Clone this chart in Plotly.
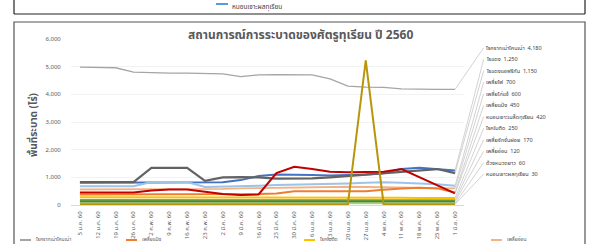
import plotly.graph_objects as go

# ---------------- data ----------------
dates = ["5 ม.ค. 60", "12 ม.ค. 60", "19 ม.ค. 60", "26 ม.ค. 60", "2 ก.พ. 60", "9 ก.พ. 60",
         "16 ก.พ. 60", "23 ก.พ. 60", "2 มี.ค. 60", "9 มี.ค. 60", "16 มี.ค. 60", "23 มี.ค. 60",
         "30 มี.ค. 60", "6 เม.ย. 60", "13 เม.ย. 60", "20 เม.ย. 60", "27 เม.ย. 60", "4 พ.ค. 60",
         "11 พ.ค. 60", "18 พ.ค. 60", "25 พ.ค. 60", "1 มิ.ย. 60"]

s_root_rot = [4980, 4980, 4960, 4800, 4780, 4770, 4770, 4760, 4740, 4640, 4700,
              4710, 4710, 4700, 4560, 4300, 4260, 4250, 4200, 4180, 4180, 4180]
s_red_mite = [800, 800, 800, 800, 800, 800, 800, 800, 820, 900, 1050,
              1100, 1100, 1080, 1070, 1080, 1100, 1150, 1300, 1350, 1300, 1250]
s_african_mite = [830, 830, 830, 830, 1340, 1340, 1340, 870, 1000, 1010, 1000,
                  950, 950, 960, 1000, 1050, 1100, 1150, 1200, 1250, 1300, 1150]
s_thrips = [680, 680, 680, 680, 830, 830, 830, 650, 660, 680, 700,
            720, 730, 740, 760, 780, 800, 820, 800, 780, 750, 700]
s_psyllid = [560, 560, 560, 560, 560, 560, 560, 560, 580, 600, 610,
             620, 640, 650, 660, 660, 650, 640, 630, 620, 610, 600]
s_mealybug = [380, 380, 380, 380, 380, 380, 380, 380, 380, 380, 400,
              420, 500, 500, 500, 500, 500, 550, 600, 620, 600, 450]
s_seed_borer = [450, 450, 450, 450, 520, 560, 560, 480, 400, 360, 380,
                1150, 1380, 1300, 1200, 1180, 1180, 1200, 1300, 1000, 700, 420]
s_leaf_blight = [280, 280, 280, 280, 280, 280, 280, 280, 280, 280, 280,
                 280, 280, 270, 270, 270, 260, 260, 260, 250, 250, 250]
s_leafhopper = [180, 180, 180, 180, 180, 180, 180, 180, 180, 180, 180,
                180, 180, 180, 180, 170, 170, 170, 170, 170, 170, 170]
s_aphid = [120, 120, 120, 120, 120, 120, 120, 120, 120, 120, 120,
           120, 120, 120, 120, 120, 120, 120, 120, 120, 120, 120]
s_borer = [60, 60, 60, 60, 60, 60, 60, 60, 60, 60, 60,
           60, 60, 60, 60, 60, 60, 60, 60, 60, 60, 60]
s_fruit_borer = [30, 30, 30, 30, 30, 30, 30, 30, 30, 30, 30,
                 30, 30, 30, 30, 30, 5230, 30, 30, 30, 30, 30]

series_names = ["โรครากเน่าโคนเน่า", "ไรแดง", "ไรแดงแอฟริกัน", "เพลี้ยไฟ", "เพลี้ยไก่แจ้",
                "เพลี้ยแป้ง", "หนอนเจาะเมล็ดทุเรียน", "โรคใบติด", "เพลี้ยจักจั่นฝอย",
                "เพลี้ยอ่อน", "ด้วงหนวดยาว", "หนอนเจาะผลทุเรียน"]
series_values = [s_root_rot, s_red_mite, s_african_mite, s_thrips, s_psyllid, s_mealybug,
                 s_seed_borer, s_leaf_blight, s_leafhopper, s_aphid, s_borer, s_fruit_borer]

y_ticks = [0, 1000, 2000, 3000, 4000, 5000, 6000]

title_text = "สถานการณ์การระบาดของศัตรูทุเรียน ปี 2560"
y_title = "พื้นที่ระบาด (ไร่)"
top_legend_text = "หนอนเจาะผลทุเรียน"
bottom_legend_texts = ["โรครากเน่าโคนเน่า", "เพลี้ยแป้ง", "โรคใบติด", "เพลี้ยอ่อน"]

# ---------------- styles ----------------
colors = ["#a5a5a5", "#4472c4", "#636363", "#9dc3e6", "#f4b183", "#ed7d31",
          "#c00000", "#ffc000", "#70ad47", "#548235", "#a9d18e", "#b8960c"]
widths = [1.3, 2, 2.2, 2, 1.8, 2, 2, 2, 2, 2.4, 2, 2]
FONT = "Noto Sans, Noto Sans Thai, Loma, Tahoma, sans-serif"

W, H = 590, 244
L, R, T, B = 71, 126, 39, 39
PW, PH = W - L - R, H - T - B


def px(xp):
    return (xp - L) / PW


def py(yp):
    return (H - B - yp) / PH


fig = go.Figure()
idx = list(range(len(dates)))
draw_order = list(range(len(series_names)))
for i in draw_order:
    fig.add_trace(go.Scatter(
        x=idx, y=series_values[i], mode="lines", name=series_names[i],
        line=dict(color=colors[i], width=widths[i]), showlegend=False))

annotations = []
# end-of-line data labels with leader lines
for k, i in enumerate(draw_order):
    vals = series_values[i]
    annotations.append(dict(
        x=idx[-1], y=vals[-1], xref="x", yref="y",
        ax=22.6, ay=5680 - k * 415, axref="x", ayref="y",
        text=f"{series_names[i]}  {vals[-1]:,}", showarrow=True, arrowhead=0,
        arrowwidth=0.7, arrowcolor="#bfbfbf", xanchor="left", yanchor="middle",
        font=dict(family=FONT, size=5.5, color="#404040")))

# title
annotations.append(dict(x=px(300), y=py(35), xref="paper", yref="paper",
                        text=f"<b>{title_text}</b>", showarrow=False,
                        font=dict(family=FONT, size=12, color="#595959"),
                        xanchor="center", yanchor="middle"))
# y title
annotations.append(dict(x=px(24), y=py(125), xref="paper", yref="paper",
                        text=f"<b>{y_title}</b>", showarrow=False, textangle=-90,
                        font=dict(family=FONT, size=10, color="#595959")))
# top (previous chart) legend fragment
annotations.append(dict(x=px(230), y=py(0), xref="paper", yref="paper",
                        text=top_legend_text, showarrow=False, xanchor="left", yanchor="top",
                        font=dict(family=FONT, size=6.5, color="#404040")))
# bottom legend fragments (at the page edge)
bl_x = [34, 140, 318, 505]
bl_c = ["#a5a5a5", "#ed7d31", "#ffc000", "#f4b183"]
shapes = []
for xp, t, c in zip(bl_x, bottom_legend_texts, bl_c):
    annotations.append(dict(x=px(xp), y=py(243.5), xref="paper", yref="paper",
                            text=t, showarrow=False, xanchor="left", yanchor="bottom",
                            font=dict(family=FONT, size=5, color="#595959")))
    shapes.append(dict(type="line", xref="paper", yref="paper",
                       x0=px(xp - 14), x1=px(xp - 3), y0=py(240), y1=py(240),
                       line=dict(color=c, width=2)))

# frames
shapes += [
    dict(type="line", xref="paper", yref="paper", x0=px(14), x1=px(585), y0=py(14), y1=py(14),
         line=dict(color="#222222", width=1.2)),
    dict(type="line", xref="paper", yref="paper", x0=px(14), x1=px(14), y0=py(-5), y1=py(14),
         line=dict(color="#222222", width=1.2)),
    dict(type="line", xref="paper", yref="paper", x0=px(585), x1=px(585), y0=py(-5), y1=py(14),
         line=dict(color="#222222", width=1.2)),
    dict(type="rect", xref="paper", yref="paper", x0=px(14), x1=px(585), y0=py(260), y1=py(22),
         line=dict(color="#555555", width=1.2)),
    dict(type="line", xref="paper", yref="paper", x0=px(216), x1=px(228), y0=py(4), y1=py(4),
         line=dict(color="#5b9bd5", width=2)),
]

fig.update_layout(
    width=W, height=H, margin=dict(l=L, r=R, t=T, b=B, autoexpand=False),
    paper_bgcolor="white", plot_bgcolor="white",
    annotations=annotations, shapes=shapes,
    xaxis=dict(range=[-0.5, len(dates) - 0.5], tickmode="array", tickvals=idx, ticktext=dates,
               tickangle=-90, showgrid=False, zeroline=False, automargin=False,
               showline=True, linecolor="#d9d9d9", linewidth=1,
               ticks="outside", ticklen=3, tickcolor="white",
               tickfont=dict(family=FONT, size=6, color="#595959")),
    yaxis=dict(range=[0, 6000], tickvals=y_ticks, tickformat=",", automargin=False,
               showgrid=True, gridcolor="#f2f2f2", zeroline=False, showline=False,
               ticks="outside", ticklen=8, tickcolor="white",
               tickfont=dict(family=FONT, size=6, color="#595959")),
)

fig.write_html("out.html",
               config={"displayModeBar": False},
               post_script="document.body.style.margin='0px';"
                           "document.body.style.overflow='hidden';")
